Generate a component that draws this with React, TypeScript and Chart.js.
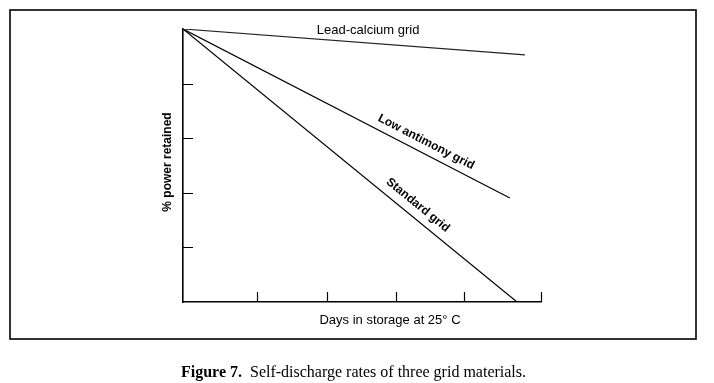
import React, { useEffect, useRef } from "react";
import { Chart, registerables } from "chart.js";

Chart.register(...registerables);

// ---- data (x = relative storage time 0..100, y = % power retained) ----
const SERIES_NAMES = ["Lead-calcium grid", "Low antimony grid", "Standard grid"];
const DAYS_START = [0, 0, 0];
const DAYS_END = [95.5, 91.3, 93.3];
const POWER_START = [100, 100, 100];
const POWER_END = [90.5, 38.1, 0];
const X_TICKS = [20.7, 40.2, 59.5, 78.5, 100];
const Y_TICKS = [20, 40, 60, 80];
const LABEL_DAYS = [51.7, 67.9, 65.6];
const LABEL_POWER = [99.6, 58.6, 35.5];
const X_TITLE = "Days in storage at 25° C";
const Y_TITLE = "% power retained";
const CAPTION_BOLD = "Figure 7.";
const CAPTION_TEXT = "Self-discharge rates of three grid materials.";

const SANS = '"Liberation Sans", Arial, sans-serif';
const SERIF = '"Liberation Serif", "Times New Roman", serif';

const decorPlugin = {
  id: "decor",
  beforeDraw(chart: any) {
    const ctx = chart.ctx;
    ctx.save();
    ctx.fillStyle = "#fff";
    ctx.fillRect(0, 0, chart.width, chart.height);
    ctx.strokeStyle = "#000";
    ctx.lineWidth = 1.6;
    ctx.strokeRect(10, 10, 686, 329);
    ctx.restore();
  },
  afterDraw(chart: any) {
    const { ctx, chartArea } = chart;
    const x = chart.scales.x;
    const y = chart.scales.y;
    ctx.save();
    // inward tick marks
    ctx.strokeStyle = "#000";
    ctx.lineWidth = 1.2;
    ctx.beginPath();
    X_TICKS.forEach((v) => {
      const px = Math.round(x.getPixelForValue(v)) + 0.5;
      ctx.moveTo(px, chartArea.bottom);
      ctx.lineTo(px, chartArea.bottom - 10);
    });
    Y_TICKS.forEach((v) => {
      const py = Math.round(y.getPixelForValue(v)) + 0.5;
      ctx.moveTo(chartArea.left, py);
      ctx.lineTo(chartArea.left + 10, py);
    });
    ctx.stroke();

    ctx.fillStyle = "#000";
    ctx.textAlign = "center";
    ctx.textBaseline = "middle";

    // series labels
    SERIES_NAMES.forEach((name, i) => {
      const lx = x.getPixelForValue(LABEL_DAYS[i]);
      const ly = y.getPixelForValue(LABEL_POWER[i]);
      ctx.save();
      ctx.translate(lx, ly);
      if (i === 0) {
        ctx.font = `13px ${SANS}`;
      } else {
        const x0 = x.getPixelForValue(DAYS_START[i]);
        const y0 = y.getPixelForValue(POWER_START[i]);
        const x1 = x.getPixelForValue(DAYS_END[i]);
        const y1 = y.getPixelForValue(POWER_END[i]);
        ctx.rotate(Math.atan2(y1 - y0, x1 - x0));
        ctx.font = `bold 12px ${SANS}`;
      }
      ctx.fillText(name, 0, 0);
      ctx.restore();
    });

    // axis titles
    ctx.font = `13px ${SANS}`;
    ctx.fillText(X_TITLE, 390, 320);
    ctx.save();
    ctx.translate(168, 162);
    ctx.rotate(-Math.PI / 2);
    ctx.font = `bold 12px ${SANS}`;
    ctx.fillText(Y_TITLE, 0, 0);
    ctx.restore();

    // caption
    ctx.textAlign = "left";
    ctx.textBaseline = "alphabetic";
    ctx.font = `bold 16px ${SERIF}`;
    const wb = ctx.measureText(CAPTION_BOLD + "  ").width;
    ctx.font = `16px ${SERIF}`;
    const wr = ctx.measureText(CAPTION_TEXT).width;
    const startX = 353.5 - (wb + wr) / 2;
    ctx.font = `bold 16px ${SERIF}`;
    ctx.fillText(CAPTION_BOLD, startX, 377);
    ctx.font = `16px ${SERIF}`;
    ctx.fillText(CAPTION_TEXT, startX + wb, 377);
    ctx.restore();
  },
};

export default function App() {
  const ref = useRef<HTMLCanvasElement | null>(null);

  useEffect(() => {
    if (!ref.current) return;
    const datasets = SERIES_NAMES.map((name, i) => ({
      label: name,
      data: [
        { x: DAYS_START[i], y: POWER_START[i] },
        { x: DAYS_END[i], y: POWER_END[i] },
      ],
      borderColor: i === 0 ? "#222" : "#000",
      borderWidth: 1.2,
      pointRadius: 0,
      fill: false,
      tension: 0,
    }));
    const chart = new Chart(ref.current, {
      type: "line",
      data: { datasets },
      options: {
        animation: false,
        responsive: false,
        devicePixelRatio: 1,
        layout: { padding: { left: 183, right: 173, top: 29, bottom: 81 } },
        plugins: { legend: { display: false }, tooltip: { enabled: false } },
        scales: {
          x: {
            type: "linear",
            min: 0,
            max: 100,
            ticks: { display: false },
            grid: { display: true, drawOnChartArea: false, drawTicks: false },
            border: { display: true, color: "#000", width: 1.6 },
          },
          y: {
            type: "linear",
            min: 0,
            max: 100,
            ticks: { display: false },
            grid: { display: true, drawOnChartArea: false, drawTicks: false },
            border: { display: true, color: "#000", width: 1.6 },
          },
        },
      },
      plugins: [decorPlugin],
    } as any);
    return () => chart.destroy();
  }, []);

  return (
    <div style={{ position: "fixed", left: 0, top: 0, width: 714, height: 383, background: "#fff" }}>
      <canvas ref={ref} width={714} height={383} style={{ display: "block" }} />
    </div>
  );
}
